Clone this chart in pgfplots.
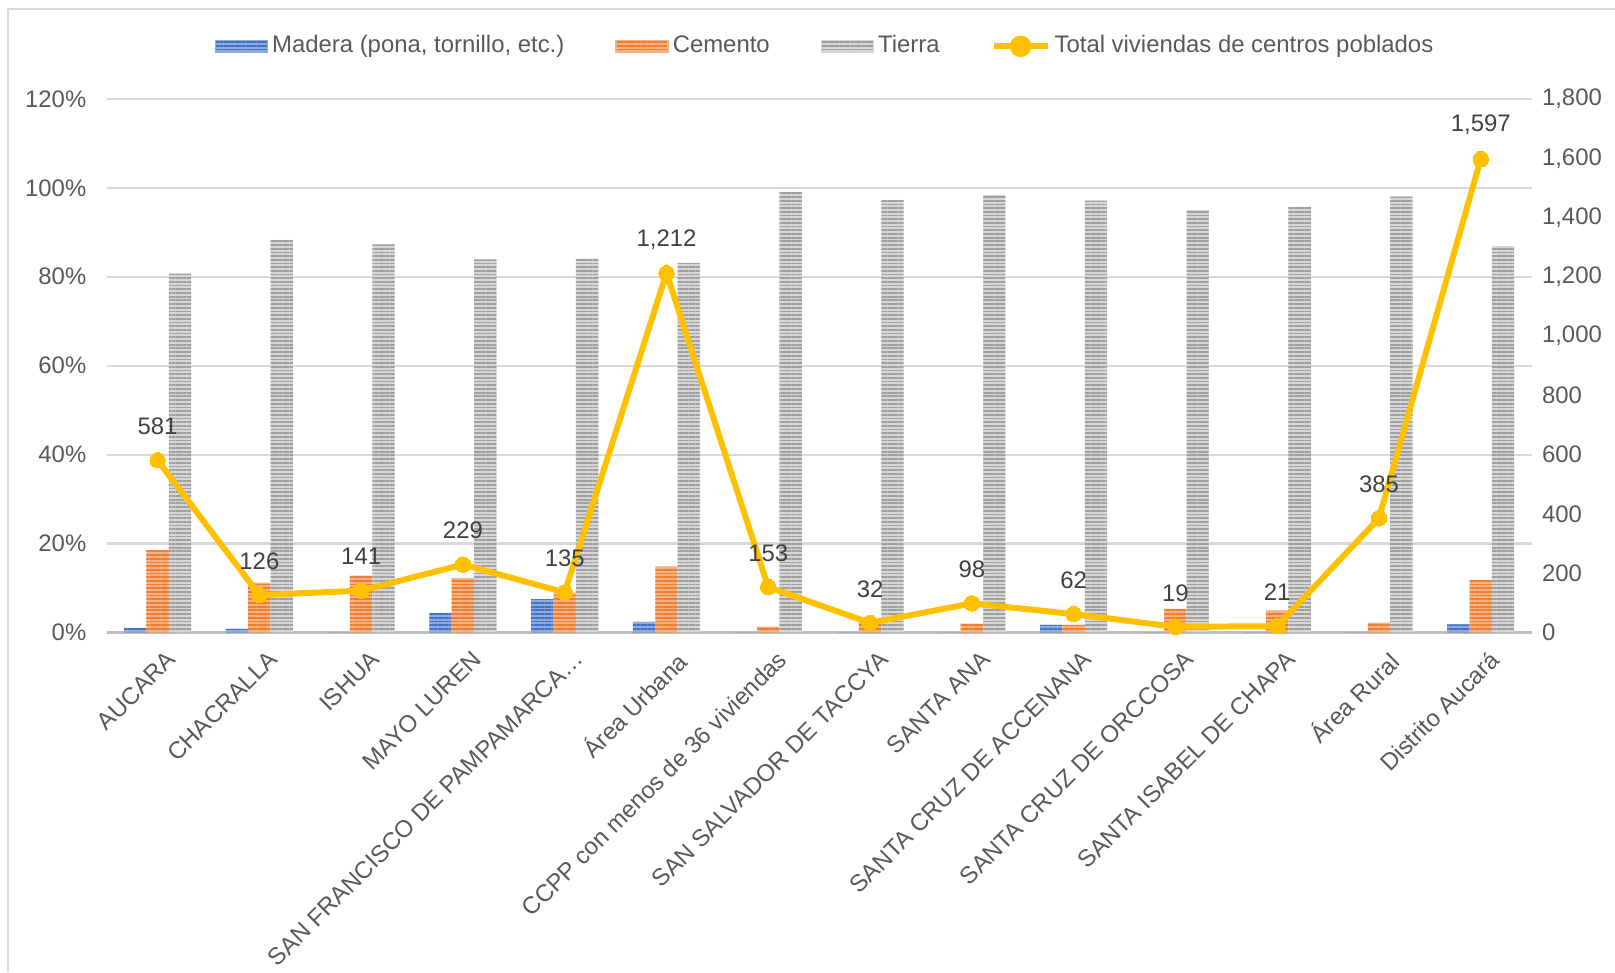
\documentclass[border=0pt]{standalone}
\usepackage{fontspec}
\setmainfont{Liberation Sans}
\usepackage{pgfplots}
\usepackage{pgfplotstable}
\pgfplotsset{compat=1.18}
\usetikzlibrary{patterns.meta}
\definecolor{cblue}{HTML}{4472C4}
\definecolor{cbluel}{HTML}{8FAADC}
\definecolor{corange}{HTML}{ED7D31}
\definecolor{corangel}{HTML}{F4B183}
\definecolor{cgray}{HTML}{A0A0A0}
\definecolor{cgrayl}{HTML}{D6D6D6}
\definecolor{cgold}{HTML}{FFC000}
\definecolor{txt}{HTML}{595959}
\definecolor{lbl}{HTML}{404040}
\definecolor{gridc}{HTML}{D9D9D9}
\definecolor{axc}{HTML}{BFBFBF}

\pgfplotstableread{
x madera cemento tierra total
0  1.0 18.5 80.8 581
1  0.8 11.2 88.3 126
2  0.0 12.8 87.3 141
3  4.4 12.2 83.9 229
4  7.5  8.9 84.1 135
5  2.4 14.8 83.2 1212
6  0.0  1.3 99.1 153
7  0.0  2.5 97.3 32
8  0.0  2.0 98.4 98
9  1.7  1.7 97.1 62
10 0.0  5.3 95.0 19
11 0.0  4.9 95.7 21
12 0.0  2.2 98.0 385
13 1.8 11.8 86.9 1597
}\datatable

\newcommand{\fs}{\fontsize{6.8}{8.2}\selectfont}
\tikzset{
  stripe/.style={pattern={Lines[angle=0,distance=1.05pt,line width=0.5pt]}},
}

\begin{document}
\begin{tikzpicture}
\path[use as bounding box] (0,0) rectangle (16.15,-9.72);
\draw[gridc, line width=0.6pt] (0.08,-9.72) -- (0.08,-0.093) -- (16.15,-0.093);
\begin{axis}[
  at={(1.067cm,-6.324cm)}, anchor=south west, scale only axis,
  width=14.249cm, height=5.335cm,
  xmin=-0.5, xmax=13.5, ymin=0, ymax=120,
  xtick={0,...,13},
  xticklabels={AUCARA, CHACRALLA, ISHUA, MAYO LUREN, SAN FRANCISCO DE PAMPAMARCA…, Área Urbana, CCPP con menos de 36 viviendas, SAN SALVADOR DE TACCYA, SANTA ANA, SANTA CRUZ DE ACCENANA, SANTA CRUZ DE ORCCOSA, SANTA ISABEL DE CHAPA, Área Rural, Distrito Aucará},
  ytick={0,20,...,120},
  yticklabel={\pgfmathprintnumber{\tick}\%},
  /pgf/number format/assume math mode=true,
  ymajorgrids, grid style={gridc, line width=0.6pt},
  axis x line*=bottom, axis y line*=left,
  x axis line style={axc, line width=0.9pt},
  y axis line style={draw=none},
  major tick length=0pt,
  tick label style={font=\fs, text=txt},
  yticklabel style={xshift=-0.08cm},
  xticklabel style={rotate=45, anchor=north east, xshift=0.06cm, yshift=-0.05cm},
]
\addplot[ybar, bar width=0.22, bar shift=-0.22, draw=none, fill=cbluel, postaction={stripe, pattern color=cblue}] table[x=x,y=madera]{\datatable};
\addplot[ybar, bar width=0.22, bar shift=0, draw=none, fill=corangel, postaction={stripe, pattern color=corange}] table[x=x,y=cemento]{\datatable};
\addplot[ybar, bar width=0.22, bar shift=0.22, draw=none, fill=cgrayl, postaction={stripe, pattern color=cgray}] table[x=x,y=tierra]{\datatable};
\end{axis}
\begin{axis}[
  at={(1.067cm,-6.324cm)}, anchor=south west, scale only axis,
  width=14.249cm, height=5.335cm,
  xmin=-0.5, xmax=13.5, ymin=0, ymax=1800,
  ytick={0,200,...,1800},
  /pgf/number format/1000 sep={,},
  /pgf/number format/assume math mode=true,
  axis x line=none, axis y line*=right,
  y axis line style={draw=none},
  major tick length=0pt,
  tick label style={font=\fs, text=txt},
  yticklabel style={xshift=-0.02cm},
  clip=false,
  legend columns=4,
  legend style={at={(0.5048,1.0984)}, anchor=center, draw=none, fill=none, font=\fs, text=txt,
    nodes={inner xsep=0.04cm},
    /tikz/every even column/.append style={column sep=0.47cm}},
]
\addlegendimage{legend image code/.code={\fill[cbluel, postaction={stripe, pattern color=cblue}] (0cm,-0.06cm) rectangle (0.52cm,0.06cm);}}
\addlegendentry{Madera (pona, tornillo, etc.)}
\addlegendimage{legend image code/.code={\fill[corangel, postaction={stripe, pattern color=corange}] (0cm,-0.06cm) rectangle (0.52cm,0.06cm);}}
\addlegendentry{Cemento}
\addlegendimage{legend image code/.code={\fill[cgrayl, postaction={stripe, pattern color=cgray}] (0cm,-0.06cm) rectangle (0.52cm,0.06cm);}}
\addlegendentry{Tierra}
\addplot[cgold, line width=1.7pt, mark=*, mark size=2.2pt, mark options={fill=cgold, draw=cgold, line width=0pt},
  legend image code/.code={\draw[cgold, line width=1.7pt] (0cm,0cm) -- (0.54cm,0cm); \fill[cgold] (0.27cm,0cm) circle (2.2pt);},
  nodes near coords,
  every node near coord/.append style={anchor=center, yshift=0.34cm, text=lbl, font=\fs}]
  table[x=x,y=total]{\datatable};
\addlegendentry{Total viviendas de centros poblados}
\end{axis}
\end{tikzpicture}
\end{document}
